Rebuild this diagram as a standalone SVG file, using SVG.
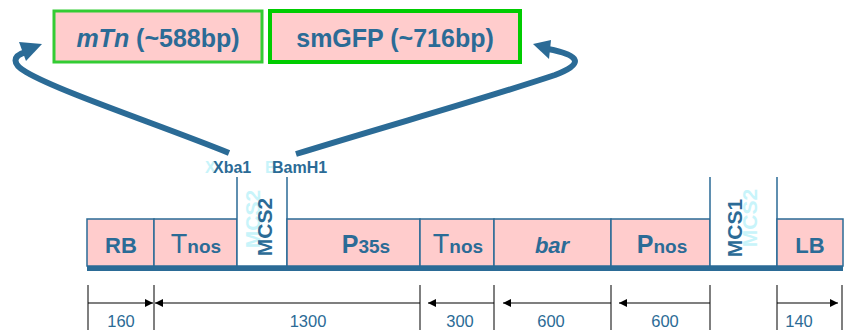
<svg xmlns="http://www.w3.org/2000/svg" width="846" height="330" viewBox="0 0 846 330">
<defs>
<style>
.t{font-family:"Liberation Sans",Arial,sans-serif;font-weight:bold;fill:#2b6b96}
.seg{fill:#ffcccc;stroke:#2b6b96;stroke-width:1.5}
.w{fill:#ffffff;stroke:#2b6b96;stroke-width:1.5}
.ghost{font-family:"Liberation Sans",Arial,sans-serif;font-weight:bold;fill:#c8f4fa}
.dim{stroke:#000;stroke-width:1.2;fill:none}
.tick{stroke:#555;stroke-width:1.5}
.num{font-family:"Liberation Sans",Arial,sans-serif;font-size:16.5px;fill:#2b6b96;text-anchor:middle}
.conn{fill:none;stroke:#2b6b96;stroke-width:6}
</style>
<marker id="ah" viewBox="0 0 10 10" refX="10" refY="5" markerWidth="8" markerHeight="8" markerUnits="userSpaceOnUse" orient="auto"><path d="M0,0 L10,5 L0,10 z" fill="#000"/></marker>
</defs>

<g id="insert-mTn">
<rect x="54" y="11" width="208" height="51" fill="#ffcccc" stroke="#33cc33" stroke-width="3"/>
<text class="t" x="158" y="47" font-size="25" text-anchor="middle"><tspan font-style="italic">mTn</tspan> (~588bp)</text>
</g>
<g id="insert-smGFP">
<rect x="270" y="11" width="250" height="51" fill="#ffcccc" stroke="#00cc00" stroke-width="4"/>
<text class="t" x="395" y="47" font-size="25" text-anchor="middle">smGFP (~716bp)</text>
</g>

<g id="connectors">
<path class="conn" d="M229,153 C160,125 60,92 26,72 C12,64 12,56 26,52"/>
<path d="M42,44 L19,42 L26,61 z" fill="#2b6b96"/>
<path class="conn" d="M296,154 C400,122 480,100 555,75 C585,64 580,55 548,49"/>
<path d="M533,44 L551,40 L549,59 z" fill="#2b6b96"/>
</g>

<g id="sites">
<text class="ghost" x="205" y="173" font-size="16">X</text>
<text class="ghost" x="265" y="173" font-size="16">B</text>
<text class="t" x="213" y="173" font-size="16">Xba1</text>
<text class="t" x="272" y="173" font-size="16">BamH1</text>
</g>

<g id="bar">
<rect x="87" y="265" width="756" height="6" fill="#2b6b96"/>
</g>

<g id="RB">
<rect class="seg" x="87" y="219" width="67" height="47"/>
<text class="t" x="121" y="253" font-size="22" text-anchor="middle">RB</text>
</g>
<g id="Tnos1">
<rect class="seg" x="154" y="219" width="83" height="47"/>
<text class="t" x="196" y="253" text-anchor="middle"><tspan font-size="27" font-weight="normal">T</tspan><tspan font-size="19">nos</tspan></text>
</g>
<g id="MCS2">
<path class="w" d="M237,177 L237,266 L287,266 L287,177"/>
<text class="ghost" font-size="21" text-anchor="middle" transform="translate(260,219) rotate(-90)">MCS2</text>
<text class="t" font-size="21" text-anchor="middle" transform="translate(272,227) rotate(-90)">MCS2</text>
</g>
<g id="P35s">
<rect class="seg" x="287" y="219" width="133" height="47"/>
<text class="t" x="366" y="253" text-anchor="middle"><tspan font-size="25">P</tspan><tspan font-size="19">35s</tspan></text>
</g>
<g id="Tnos2">
<rect class="seg" x="420" y="219" width="74" height="47"/>
<text class="t" x="458" y="253" text-anchor="middle"><tspan font-size="27" font-weight="normal">T</tspan><tspan font-size="19">nos</tspan></text>
</g>
<g id="barGene">
<rect class="seg" x="494" y="219" width="117" height="47"/>
<text class="t" x="552" y="253" font-size="22" font-style="italic" text-anchor="middle">bar</text>
</g>
<g id="Pnos">
<rect class="seg" x="611" y="219" width="99" height="47"/>
<text class="t" x="662" y="253" text-anchor="middle"><tspan font-size="25">P</tspan><tspan font-size="19">nos</tspan></text>
</g>
<g id="MCS1">
<path class="w" d="M710,177 L710,266 L777,266 L777,177"/>
<text class="ghost" font-size="21" text-anchor="middle" transform="translate(757,218) rotate(-90)">MCS2</text>
<text class="t" font-size="21" text-anchor="middle" transform="translate(742,228) rotate(-90)">MCS1</text>
</g>
<g id="LB">
<rect class="seg" x="777" y="219" width="66" height="47"/>
<text class="t" x="810" y="253" font-size="22" text-anchor="middle">LB</text>
</g>

<g id="dimensions">
<line class="tick" x1="88" y1="285" x2="88" y2="330" stroke="#000"/>
<line class="tick" x1="154" y1="285" x2="154" y2="330"/>
<line class="tick" x1="420" y1="285" x2="420" y2="330"/>
<line class="tick" x1="494" y1="285" x2="494" y2="330" stroke="#000"/>
<line class="tick" x1="611" y1="285" x2="611" y2="330"/>
<line class="tick" x1="710" y1="285" x2="710" y2="330" stroke="#000"/>
<line class="tick" x1="777" y1="285" x2="777" y2="330"/>
<line class="tick" x1="842" y1="285" x2="842" y2="330" stroke="#000"/>
<line class="dim" x1="88" y1="303" x2="153" y2="303" marker-end="url(#ah)"/>
<line class="dim" x1="420" y1="303" x2="155" y2="303" marker-end="url(#ah)"/>
<line class="dim" x1="494" y1="303" x2="428" y2="303" marker-end="url(#ah)"/>
<line class="dim" x1="611" y1="303" x2="503" y2="303" marker-end="url(#ah)"/>
<line class="dim" x1="710" y1="303" x2="619" y2="303" marker-end="url(#ah)"/>
<line class="dim" x1="777" y1="303" x2="838" y2="303" marker-end="url(#ah)"/>
<text class="num" x="121" y="327">160</text>
<text class="num" x="308" y="327">1300</text>
<text class="num" x="460" y="327">300</text>
<text class="num" x="551" y="327">600</text>
<text class="num" x="665" y="327">600</text>
<text class="num" x="799" y="327">140</text>
</g>
</svg>
